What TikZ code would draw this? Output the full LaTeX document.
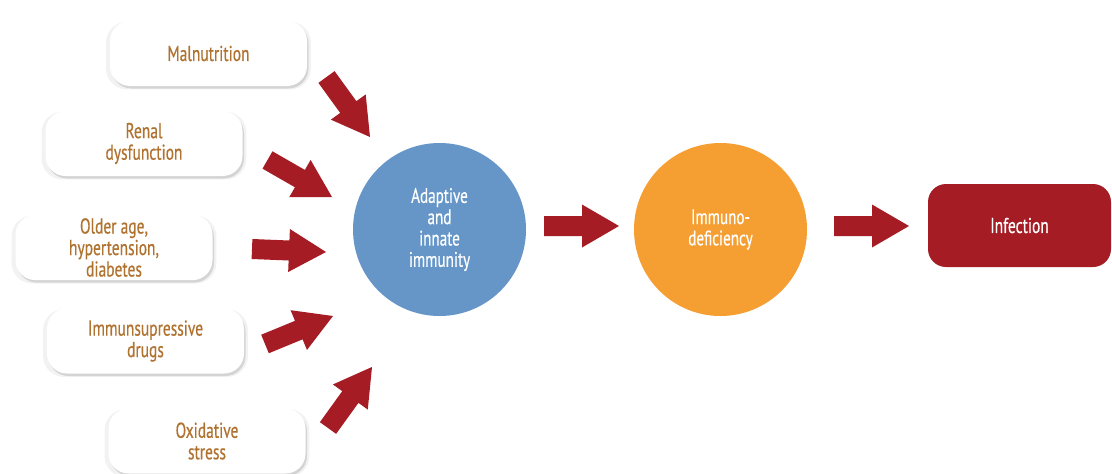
\documentclass[tikz,border=0pt]{standalone}
\usepackage{fontspec}
\setmainfont{PT Sans}[FakeStretch=0.72,FakeBold=0.4]
\usetikzlibrary{calc,shadows}
\definecolor{txtbrown}{HTML}{B0722F}
\definecolor{arrred}{HTML}{A51C24}
\definecolor{cblue}{HTML}{6596C7}
\definecolor{corange}{HTML}{F59E32}
\newcommand\blockarrow[2]{%
  \coordinate (hb) at ($(#2)!37pt!(#1)$);
  \fill[arrred] ($(#1)!10pt!90:(#2)$) -- ($(hb)!10pt!90:(#2)$) -- ($(hb)!21.5pt!90:(#2)$) -- (#2)
    -- ($(hb)!21.5pt!-90:(#2)$) -- ($(hb)!10pt!-90:(#2)$) -- ($(#1)!10pt!-90:(#2)$) -- cycle;}
\tikzset{
  factor/.style={fill=white, rounded corners=20pt, minimum width=197pt, minimum height=65pt,
    align=center, text=txtbrown, font=\fontsize{21.5}{21.5}\selectfont,
    general shadow={fill=black, opacity=0.05, shadow scale=1.04, shadow yshift=-2pt},
    drop shadow={fill=black, opacity=0.12, shadow xshift=1.5pt, shadow yshift=-2.5pt}},
  bubble/.style={circle, minimum size=173pt, inner sep=0pt, align=center, text=white,
    font=\fontsize{21}{21.3}\selectfont},
}
\begin{document}
\begin{tikzpicture}[x=1pt,y=-1pt]
\useasboundingbox (0,0) rectangle (1112,474);
\fill[white] (0,0) rectangle (1112,474);
% factor boxes
\node[factor] (mal) at (208.5,53.5) {Malnutrition};
\node[factor] (ren) at (144,143.5) {Renal\\dysfunction};
\node[factor] (old) at (114,247.5) {Older age,\\hypertension,\\diabetes};
\node[factor] (drg) at (145.5,341) {Immunsupressive\\drugs};
\node[factor] (oxi) at (207,441) {Oxidative\\stress};
% circles
\node[bubble, fill=cblue] (imm) at (439.5,229.5) {Adaptive\\and\\innate\\immunity};
\node[bubble, fill=corange] (def) at (720.5,229.5) {Immuno-\\deficiency};
% infection
\node[fill=arrred, rounded corners=18pt, minimum width=183pt, minimum height=83pt,
  text=white, font=\fontsize{21.5}{21.5}\selectfont] (inf) at (1019.5,225.5) {Infection};
% arrow end points
\coordinate (t1) at (326.5,77);  \coordinate (p1) at (370,137);
\coordinate (t2) at (267.5,160); \coordinate (p2) at (332,197);
\coordinate (t3) at (252,249);   \coordinate (p3) at (326,252);
\coordinate (t4) at (265,344);   \coordinate (p4) at (333,316);
\coordinate (t5) at (328,428);   \coordinate (p5) at (372,367);
\coordinate (t6) at (544,226);   \coordinate (p6) at (619,226);
\coordinate (t7) at (834,226);   \coordinate (p7) at (909,226);
\blockarrow{t1}{p1}
\blockarrow{t2}{p2}
\blockarrow{t3}{p3}
\blockarrow{t4}{p4}
\blockarrow{t5}{p5}
\blockarrow{t6}{p6}
\blockarrow{t7}{p7}
\end{tikzpicture}
\end{document}
